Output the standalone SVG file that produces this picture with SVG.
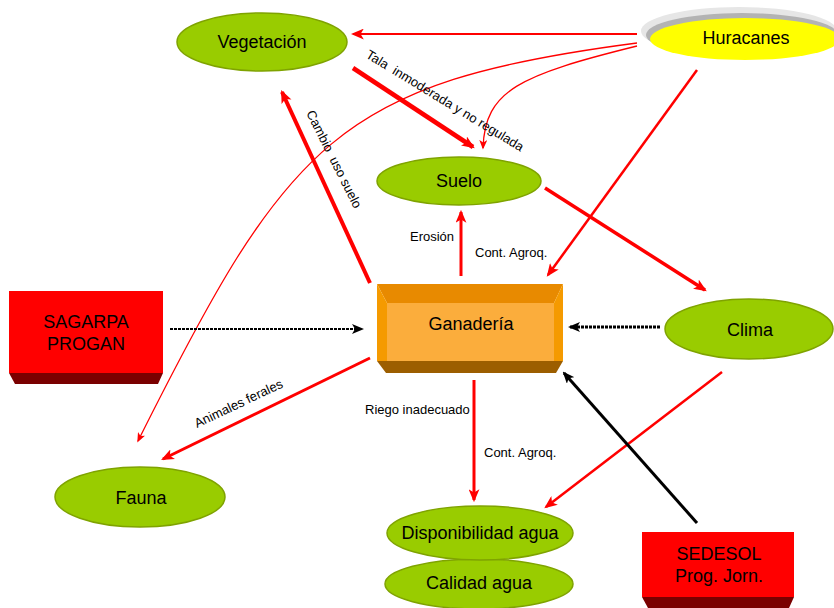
<svg xmlns="http://www.w3.org/2000/svg" width="834" height="608" viewBox="0 0 834 608">
  <style>
    .lbl { font-family: "Liberation Sans", Arial, sans-serif; font-size: 18px; fill: #000; text-anchor: middle; }
    .small { font-family: "Liberation Sans", Arial, sans-serif; font-size: 13px; fill: #000; }
    .green { fill: #99CC00; stroke: #7FA300; stroke-width: 1.5; }
    .red { fill: none; stroke: #FF0000; }
    .blk { fill: none; stroke: #000; }
  </style>
  <defs>
    <marker id="arrRed" viewBox="0 0 12 10" refX="10" refY="5" markerWidth="13" markerHeight="11" markerUnits="userSpaceOnUse" orient="auto">
      <path d="M0,0 L12,5 L0,10 L3,5 z" fill="#FF0000"/>
    </marker>
    <marker id="arrRedSm" viewBox="0 0 12 10" refX="10" refY="5" markerWidth="10" markerHeight="8" markerUnits="userSpaceOnUse" orient="auto">
      <path d="M0,0 L12,5 L0,10 L3,5 z" fill="#FF0000"/>
    </marker>
    <marker id="arrBlk" viewBox="0 0 12 10" refX="10" refY="5" markerWidth="12" markerHeight="10" markerUnits="userSpaceOnUse" orient="auto">
      <path d="M0,0 L12,5 L0,10 L3,5 z" fill="#000"/>
    </marker>
  </defs>

  <!-- connectors -->
  <g id="connectors">
    <path class="red" d="M637,34 L353,34" stroke-width="2.2" marker-end="url(#arrRed)"/>
    <path class="red" d="M637,43 C337,82 288,141 138,441" stroke-width="1.3" marker-end="url(#arrRedSm)"/>
    <path class="red" d="M637,46 C520,75 485,90 483,148" stroke-width="1.3" marker-end="url(#arrRedSm)"/>
    <path class="red" d="M697,70 L548,275" stroke-width="2.5" marker-end="url(#arrRed)"/>
    <path class="red" d="M353,68 L473,147" stroke-width="4.5" marker-end="url(#arrRed)"/>
    <path class="red" d="M370,283 L282,92" stroke-width="4" marker-end="url(#arrRed)"/>
    <path class="red" d="M461,276 L461,212" stroke-width="3" marker-end="url(#arrRed)"/>
    <path class="red" d="M545,188 L705,290" stroke-width="3.5" marker-end="url(#arrRed)"/>
    <path class="blk" d="M660,327 L570,327" stroke-width="3" stroke-dasharray="3 1" marker-end="url(#arrBlk)"/>
    <path class="blk" d="M170,329 L362,329" stroke-width="2" stroke-dasharray="3 1" marker-end="url(#arrBlk)"/>
    <path class="red" d="M370,358 L163,459" stroke-width="3" marker-end="url(#arrRed)"/>
    <path class="red" d="M474,380 L474,500" stroke-width="3" marker-end="url(#arrRed)"/>
    <path class="red" d="M722,372 L546,507" stroke-width="2.5" marker-end="url(#arrRed)"/>
    <path class="blk" d="M697,523 L564,373" stroke-width="3" marker-end="url(#arrBlk)"/>

    <text class="small" x="365" y="57" transform="rotate(31.4 365 57)" xml:space="preserve">Tala  inmoderada y no regulada</text>
    <text class="small" x="306" y="113" transform="rotate(63.4 306 113)" xml:space="preserve">Cambio  uso suelo</text>
    <text class="small" x="410" y="241">Erosión</text>
    <text class="small" x="475" y="257">Cont. Agroq.</text>
    <text class="small" x="197" y="428" transform="rotate(-25.3 197 428)">Animales ferales</text>
    <text class="small" x="365" y="414">Riego inadecuado</text>
    <text class="small" x="484" y="457">Cont. Agroq.</text>
  </g>

  <g id="vegetacion">
    <ellipse class="green" cx="262" cy="42" rx="85" ry="29"/>
    <text class="lbl" x="262" y="48">Vegetación</text>
  </g>

  <g id="huracanes">
    <ellipse cx="739" cy="31" rx="98" ry="24" fill="#E6E6E6"/>
    <ellipse cx="742" cy="35" rx="96" ry="22" fill="#B3B3B3"/>
    <ellipse cx="745" cy="39" rx="95" ry="21" fill="#FFFF00"/>
    <text class="lbl" x="746" y="44">Huracanes</text>
  </g>

  <g id="suelo">
    <ellipse class="green" cx="459" cy="181" rx="82" ry="24"/>
    <text class="lbl" x="459" y="187">Suelo</text>
  </g>

  <g id="ganaderia">
    <polygon points="377,284 563,284 554,303 387,303" fill="#E88A00"/>
    <polygon points="377,284 387,303 387,361 377,361" fill="#F59A00"/>
    <polygon points="563,284 554,303 554,361 563,361" fill="#F59A00"/>
    <polygon points="377,361 563,361 556,373 386,373" fill="#9C5E00"/>
    <rect x="387" y="303" width="167" height="58" fill="#FBAD3C"/>
    <text class="lbl" x="471" y="330">Ganadería</text>
  </g>

  <g id="sagarpa">
    <rect x="9" y="291" width="154" height="82" fill="#FF0000"/>
    <polygon points="9,373 163,373 158,384 15,384" fill="#7A0000"/>
    <text class="lbl" x="86" y="328">SAGARPA</text>
    <text class="lbl" x="86" y="350">PROGAN</text>
  </g>

  <g id="clima">
    <ellipse class="green" cx="749" cy="329" rx="84" ry="30"/>
    <text class="lbl" x="750" y="336">Clima</text>
  </g>

  <g id="fauna">
    <ellipse class="green" cx="140" cy="497" rx="85" ry="30"/>
    <text class="lbl" x="141" y="504">Fauna</text>
  </g>

  <g id="calidad">
    <ellipse class="green" cx="479" cy="584" rx="94" ry="25"/>
    <text class="lbl" x="479" y="589">Calidad agua</text>
  </g>

  <g id="disponibilidad">
    <ellipse class="green" cx="480" cy="533" rx="93" ry="27"/>
    <text class="lbl" x="480" y="539">Disponibilidad agua</text>
  </g>

  <g id="sedesol">
    <rect x="642" y="532" width="152" height="65" fill="#FF0000"/>
    <polygon points="642,597 794,597 789,608 648,608" fill="#7A0000"/>
    <text class="lbl" x="719" y="560">SEDESOL</text>
    <text class="lbl" x="719" y="582">Prog. Jorn.</text>
  </g>
</svg>
